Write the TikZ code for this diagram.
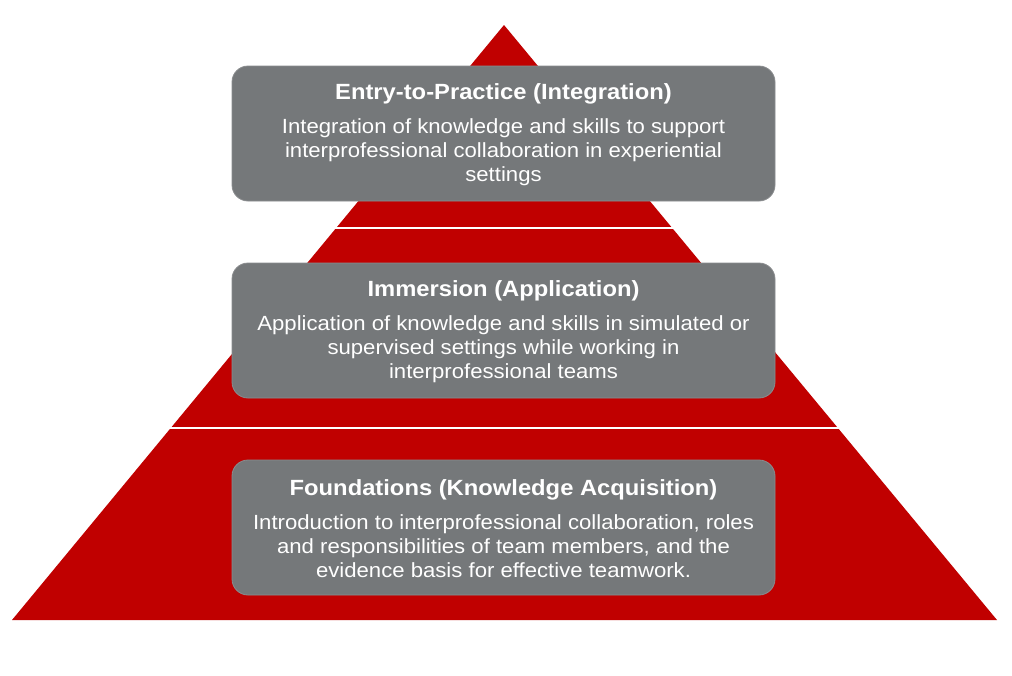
\documentclass[tikz,border=0pt]{standalone}
\usepackage{fontspec}
\setmainfont{Liberation Sans}
\newfontfamily\bodyfont[FakeStretch=1.08]{Liberation Sans}
\definecolor{pyrred}{HTML}{C00000}
\definecolor{boxgray}{HTML}{75787A}
\begin{document}
\begin{tikzpicture}[x=1pt,y=-1pt,
  tier/.style={draw=boxgray!85!white, line width=0.8pt, fill=boxgray, rounded corners=16pt,
    minimum width=543pt, minimum height=135pt, inner sep=0pt,
    text=white, align=center, font=\bodyfont\fontsize{20.5}{24}\selectfont},
  tiertext/.style={text=white, align=center, inner sep=0pt, font=\bodyfont\fontsize{20.5}{24}\selectfont},
  sep/.style={white, line width=2pt}]
\useasboundingbox (0,0) rectangle (1012,675);
\fill[white] (0,0) rectangle (1012,675);
\coordinate (apex) at (504,25);
\coordinate (bl) at (12,620);
\coordinate (br) at (997,620);
\fill[pyrred] (apex) -- (br) -- (bl) -- cycle;
\coordinate (s1l) at (334,228);
\coordinate (s1r) at (674,228);
\coordinate (s2l) at (168,428);
\coordinate (s2r) at (840,428);
\draw[sep] (s1l) -- (s1r);
\draw[sep] (s2l) -- (s2r);
\node[tier] (top) at (503.5,133.5) {};
\node[tiertext] (toptext) at ([yshift=-1.5pt]top.center) {{\fontsize{22}{24}\selectfont\bfseries Entry-to-Practice (Integration)}\\[10pt]
Integration of knowledge and skills to support\\
interprofessional collaboration in experiential\\
settings};
\node[tier] (mid) at (503.5,330.5) {};
\node[tiertext] (midtext) at ([yshift=-1.5pt]mid.center) {{\fontsize{22}{24}\selectfont\bfseries Immersion (Application)}\\[10pt]
Application of knowledge and skills in simulated or\\
supervised settings while working in\\
interprofessional teams};
\node[tier] (bot) at (503.5,527.5) {};
\node[tiertext] (bottext) at ([yshift=-1.5pt]bot.center) {{\fontsize{22}{24}\selectfont\bfseries Foundations (Knowledge Acquisition)}\\[10pt]
Introduction to interprofessional collaboration, roles\\
and responsibilities of team members, and the\\
evidence basis for effective teamwork.};
\end{tikzpicture}
\end{document}
